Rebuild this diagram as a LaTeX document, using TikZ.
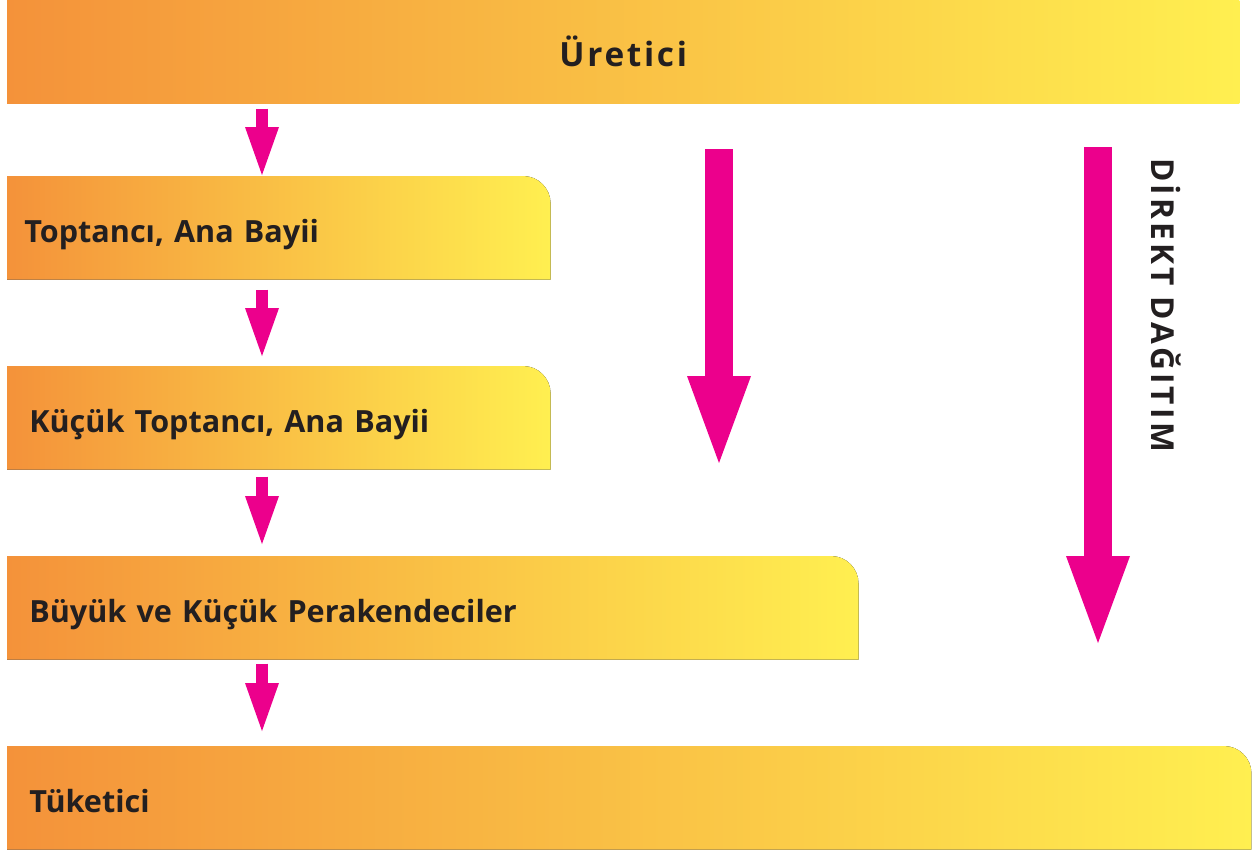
\documentclass[tikz,border=0pt]{standalone}
\usepackage{fontspec}
\setmainfont{Open Sans}
\usetikzlibrary{arrows.meta,backgrounds}

\definecolor{turuncu}{HTML}{F4923A}
\definecolor{sari}{HTML}{FFEF50}
\definecolor{pembe}{HTML}{EC008C}
\definecolor{yazi}{HTML}{231F20}

\tikzset{
  kutu/.style={anchor=north west, minimum height=2.06cm, text width=#1,
    inner xsep=0.44cm, inner ysep=0pt, text height=0.88cm, text depth=0.3cm,
    align=left, text=yazi, font=\bfseries\fontsize{17.4}{20}\selectfont},
  dolgu/.style={left color=turuncu, right color=sari},
  okcuk/.style={draw=pembe, line width=0.24cm,
    -{Triangle[length=0.96cm,width=0.68cm,line width=0pt]}},
  buyukok/.style={draw=pembe, line width=0.56cm,
    -{Triangle[length=1.74cm,width=1.28cm,line width=0pt]}},
}

% kutunun zemini: yalniz sag ust kose yuvarlak
\newcommand{\kutuzemin}[1]{%
  \fill[dolgu] (#1.south west) -- (#1.north west) -- ([xshift=-0.55cm]#1.north east)
    arc[start angle=90, end angle=0, radius=0.55cm] -- (#1.south east) -- cycle;}

\begin{document}
\begin{tikzpicture}[x=0.02cm,y=-0.02cm]
\useasboundingbox (0,0) rectangle (1257,853);

\node[kutu=23.76cm, align=center, font=\bfseries\fontsize{19}{21}\selectfont\addfontfeature{LetterSpace=8}] (uretici) at (7,0) {Üretici};
\node[kutu=10.18cm, inner xsep=0.34cm] (toptanci) at (7,176) {Toptancı, Ana Bayii};
\node[kutu=9.98cm] (kucuk) at (7,366) {Küçük Toptancı, Ana Bayii};
\node[kutu=16.14cm] (perakende) at (7,556) {Büyük ve Küçük Perakendeciler};
\node[kutu=24.0cm] (tuketici) at (7,746) {Tüketici};

\begin{pgfonlayer}{background}
\fill[dolgu] (uretici.south west) rectangle (uretici.north east);
\foreach \k in {toptanci,kucuk,perakende,tuketici} {\kutuzemin{\k}}
\end{pgfonlayer}

% kucuk oklar
\coordinate (hat) at (262,0);
\draw[okcuk] ([yshift=-0.1cm]uretici.south -| hat) -- ([yshift=0.02cm]toptanci.north -| hat);
\draw[okcuk] ([yshift=-0.2cm]toptanci.south -| hat) -- ([yshift=0.2cm]kucuk.north -| hat);
\draw[okcuk] ([yshift=-0.14cm]kucuk.south -| hat) -- ([yshift=0.24cm]perakende.north -| hat);
\draw[okcuk] ([yshift=-0.08cm]perakende.south -| hat) -- ([yshift=0.3cm]tuketici.north -| hat);

% buyuk oklar
\coordinate (ok1bas) at (719,149);
\coordinate (ok1uc) at (719,463);
\coordinate (ok2bas) at (1098,147);
\coordinate (ok2uc) at (1098,643);
\draw[buyukok] (ok1bas) -- (ok1uc);
\draw[buyukok] (ok2bas) -- (ok2uc);

\node[rotate=-90, text=yazi, font=\bfseries\fontsize{18}{20}\selectfont\addfontfeature{LetterSpace=10}] (direkt) at (1166,305) {DİREKT DAĞITIM};

\end{tikzpicture}
\end{document}
